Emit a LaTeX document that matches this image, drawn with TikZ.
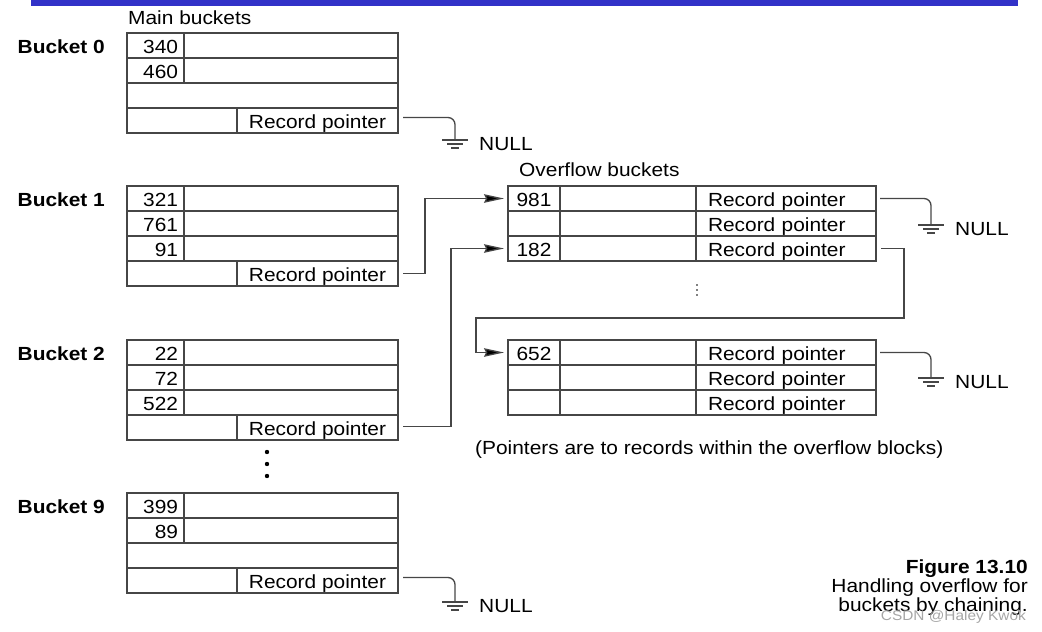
\documentclass[tikz,border=0pt]{standalone}
\usepackage{fontspec}
\setmainfont{Liberation Sans}[FakeStretch=1.1]
\usetikzlibrary{positioning, arrows.meta}
\definecolor{barblue}{RGB}{50,50,200}
\definecolor{linegray}{RGB}{70,70,70}

\begin{document}
\begin{tikzpicture}[x=1pt, y=-1pt,
      font = \fontsize{19}{22}\selectfont,
 cell/.style = {rectangle, draw=linegray, line width=1.3pt, minimum height=25pt,
                inner xsep=6pt, inner ysep=0pt, outer sep=0pt,
                text height=16pt, text depth=0pt, anchor=north west},
  key/.style = {cell, text width=45pt, align=right},
 rest/.style = {cell, minimum width=214pt},
 full/.style = {cell, minimum width=271pt},
  gap/.style = {cell, minimum width=110pt},
  ptr/.style = {cell, minimum width=161pt},
 okey/.style = {cell, minimum width=52pt},
 omid/.style = {cell, minimum width=136pt},
 optr/.style = {cell, minimum width=180pt, text width=156pt, align=left},
  lbl/.style = {inner sep=1pt},
 wire/.style = {draw=linegray, line width=1.3pt},
 link/.style = {wire, -{Stealth[length=20pt, width=8.5pt, inset=2pt, fill=black]}}
                        ]
\useasboundingbox (0,0) rectangle (1042,632);
\fill[barblue] (31,0) rectangle (1018,6);

% main buckets
\foreach \n/\t/\a/\b in {0/33/340/460, 1/186/321/761, 2/340/22/72, 9/493/399/89} {
  \node (b\n-k1) [key] at (127,\t) {\a};
  \node (b\n-r1) [rest] at (b\n-k1.north east) {};
  \node (b\n-k2) [key] at (b\n-k1.south west) {\b};
  \node (b\n-r2) [rest] at (b\n-k2.north east) {};
  \node (b\n-r3) [full] at (b\n-k2.south west) {};
  \node (b\n-g)  [gap]  at (b\n-r3.south west) {};
  \node (b\n-p)  [ptr]  at (b\n-g.north east) {Record pointer};
  \node (b\n-lbl) [lbl, anchor=east] at ([xshift=-21pt, yshift=-1pt]b\n-k1.west) {\textbf{Bucket \n}};
}
\foreach \n/\c in {1/91, 2/522}
  \node (b\n-k3) [key] at (b\n-r3.north west) {\c};
\node (mainlbl) [lbl, anchor=west] at ([yshift=15pt]b0-k1.north west) {Main buckets};

% overflow buckets
\foreach \m/\t/\a/\c in {1/186/981/182, 2/340/652/{}} {
  \node (o\m-k1) [okey] at (508,\t) {\a};
  \node (o\m-m1) [omid] at (o\m-k1.north east) {};
  \node (o\m-p1) [optr] at (o\m-m1.north east) {Record pointer};
  \node (o\m-k2) [okey] at (o\m-k1.south west) {};
  \node (o\m-m2) [omid] at (o\m-k2.north east) {};
  \node (o\m-p2) [optr] at (o\m-m2.north east) {Record pointer};
  \node (o\m-k3) [okey] at (o\m-k2.south west) {\c};
  \node (o\m-m3) [omid] at (o\m-k3.north east) {};
  \node (o\m-p3) [optr] at (o\m-m3.north east) {Record pointer};
}
\node (ovlbl) [lbl, anchor=west] at ([xshift=10pt, yshift=16pt]o1-k1.north west) {Overflow buckets};
\node (note) [lbl, anchor=west] at (474,450) {(Pointers are to records within the overflow blocks)};

% dots
\foreach \d in {452,464,476} \fill (267,\d) circle (2.2pt);
\foreach \d in {285,290,295} \fill (697,\d) circle (0.9pt);

% null ends
\coordinate (g0) at (455,140);
\coordinate (g9) at (455,602);
\coordinate (g1) at (931,225);
\coordinate (g2) at (931,378);
\foreach \g in {g0,g9,g1,g2} {
  \draw[wire] ([xshift=-13pt]\g) -- ([xshift=13pt]\g);
  \draw[wire] ([xshift=-8pt, yshift=-4pt]\g) -- ([xshift=8pt, yshift=-4pt]\g);
  \draw[wire] ([xshift=-4pt, yshift=-8pt]\g) -- ([xshift=4pt, yshift=-8pt]\g);
  \node (\g-null) [lbl, anchor=west] at ([xshift=23pt, yshift=-4pt]\g) {NULL};
}
\draw[wire, rounded corners=7pt] ([xshift=5pt, yshift=3pt]b0-p.east) -| (g0);
\draw[wire, rounded corners=7pt] ([xshift=5pt, yshift=3pt]b9-p.east) -| (g9);
\draw[wire, rounded corners=7pt] ([xshift=4pt]o1-p1.east) -| (g1);
\draw[wire, rounded corners=7pt] ([xshift=4pt]o2-p1.east) -| (g2);

% chains
\coordinate (turn) at (476,318);
\draw[link] ([xshift=5pt]b1-p.east) -- ++(22,0) |- ([xshift=-4pt]o1-k1.west);
\draw[link] ([xshift=5pt, yshift=1pt]b2-p.east) -- ++(48,0) |- ([xshift=-4pt]o1-k3.west);
\draw[link] ([xshift=5pt]o1-p3.east) -- ++(23,0) |- (turn) |- ([xshift=-4pt]o2-k1.west);

% caption
\node (fig)  [lbl, anchor=base east] at (1029,573) {\textbf{Figure 13.10}};
\node (cap1) [lbl, anchor=base east] at (1029,592) {Handling overflow for};
\node (cap2) [lbl, anchor=base east] at (1029,611.5) {buckets by chaining.};
\node (mark) [lbl, anchor=base east, text=black!35, font=\fontsize{14}{16}\selectfont] at (1027,620) {CSDN @Haley Kwok};
\end{tikzpicture}
\end{document}
